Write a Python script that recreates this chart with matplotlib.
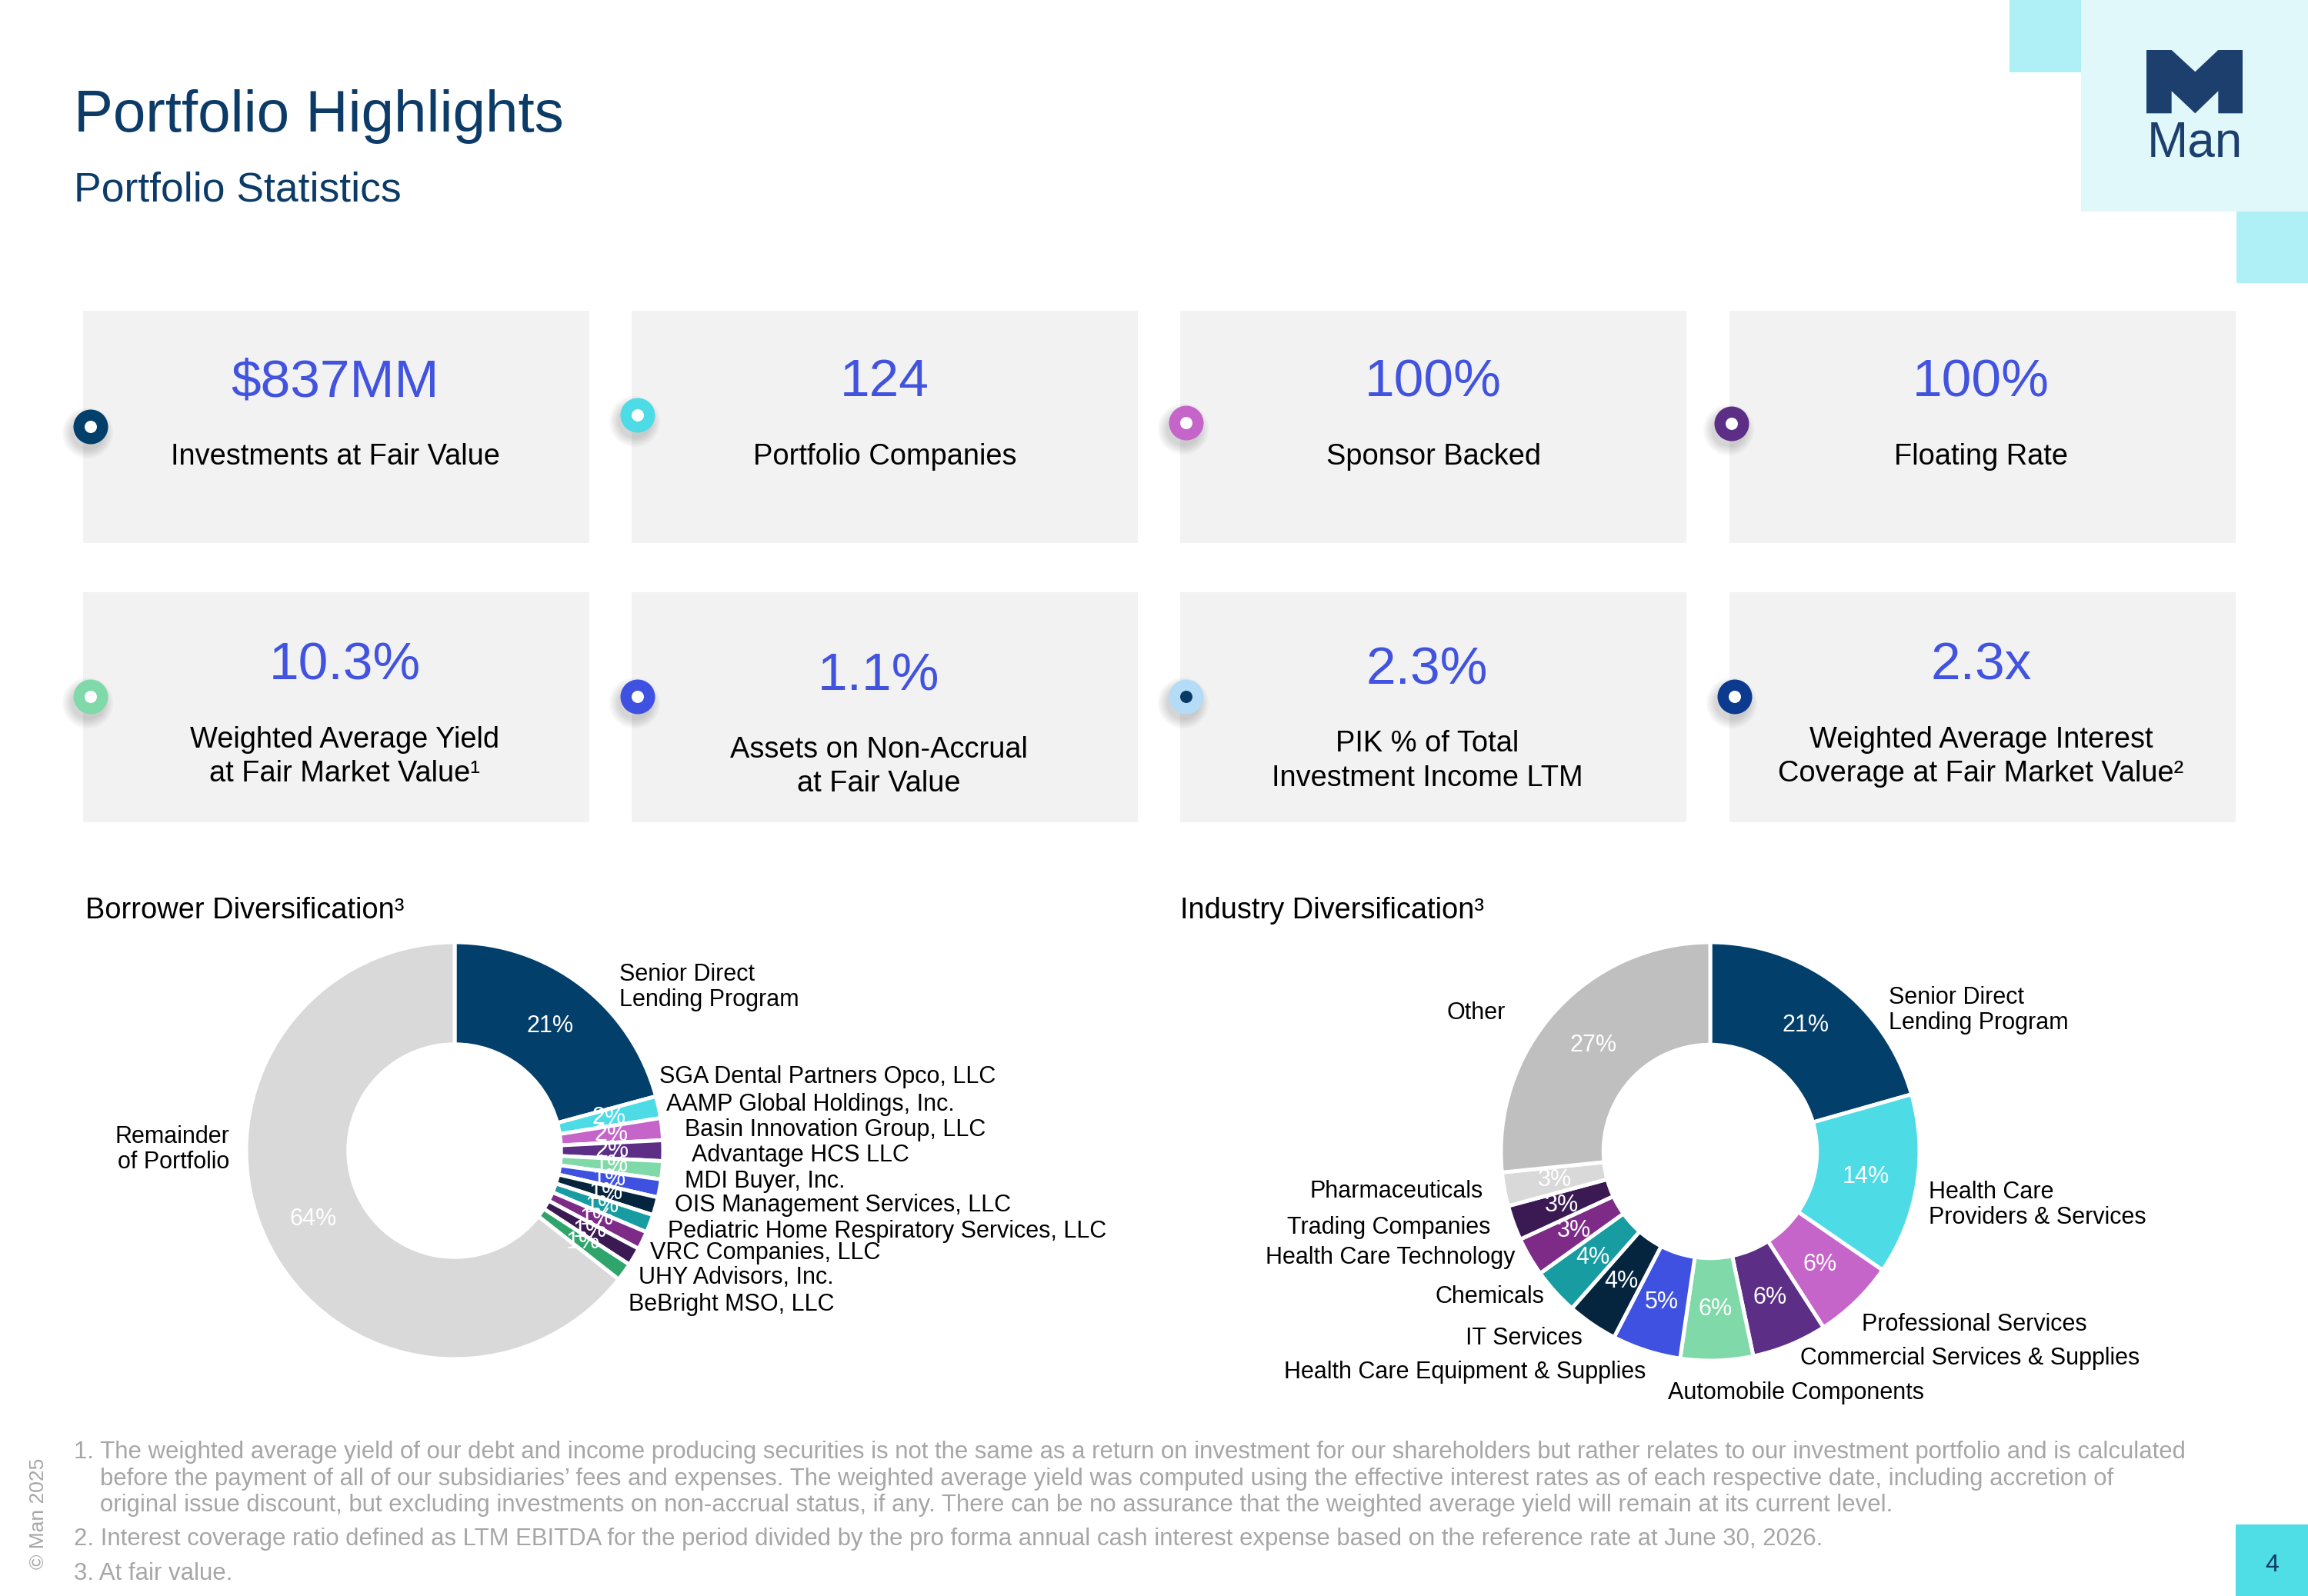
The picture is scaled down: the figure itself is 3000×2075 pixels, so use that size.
import matplotlib
matplotlib.use("Agg")
import matplotlib.pyplot as plt
from matplotlib.patches import Rectangle, Circle, Polygon

plt.rcParams['font.family'] = ['Liberation Sans', 'DejaVu Sans']

# ---------------- data ----------------
stat_values = ["$837MM", "124", "100%", "100%", "10.3%", "1.1%", "2.3%", "2.3x"]
stat_labels = [
    ["Investments at Fair Value"],
    ["Portfolio Companies"],
    ["Sponsor Backed"],
    ["Floating Rate"],
    ["Weighted Average Yield", "at Fair Market Value\u00b9"],
    ["Assets on Non-Accrual", "at Fair Value"],
    ["PIK % of Total", "Investment Income LTM"],
    ["Weighted Average Interest", "Coverage at Fair Market Value\u00b2"],
]

borrower_names = [
    "Senior Direct\nLending Program",
    "SGA Dental Partners Opco, LLC",
    "AAMP Global Holdings, Inc.",
    "Basin Innovation Group, LLC",
    "Advantage HCS LLC",
    "MDI Buyer, Inc.",
    "OIS Management Services, LLC",
    "Pediatric Home Respiratory Services, LLC",
    "VRC Companies, LLC",
    "UHY Advisors, Inc.",
    "BeBright MSO, LLC",
    "Remainder\nof Portfolio",
]
borrower_values = [20.8, 1.7, 1.7, 1.6, 1.4, 1.4, 1.4, 1.4, 1.4, 1.4, 1.4, 64.4]

industry_names = [
    "Senior Direct\nLending Program",
    "Health Care\nProviders & Services",
    "Professional Services",
    "Commercial Services & Supplies",
    "Automobile Components",
    "Health Care Equipment & Supplies",
    "IT Services",
    "Chemicals",
    "Health Care Technology",
    "Trading Companies",
    "Pharmaceuticals",
    "Other",
]
industry_values = [20.6, 14.0, 6.3, 5.8, 5.6, 5.3, 3.9, 3.6, 3.0, 2.7, 2.6, 26.6]

footnotes = [
    ["1. The weighted average yield of our debt and income producing securities is not the same as a return on investment for our shareholders but rather relates to our investment portfolio and is calculated",
     "before the payment of all of our subsidiaries\u2019 fees and expenses. The weighted average yield was computed using the effective interest rates as of each respective date, including accretion of",
     "original issue discount, but excluding investments on non-accrual status, if any. There can be no assurance that the weighted average yield will remain at its current level."],
    ["2. Interest coverage ratio defined as LTM EBITDA for the period divided by the pro forma annual cash interest expense based on the reference rate at June 30, 2026."],
    ["3. At fair value."],
]

# ---------------- style ----------------
NAVY = "#023f6b"
CYAN = "#4ddbe6"
ORCHID = "#c565ca"
PURPLE = "#5c2e86"
MINT = "#80d9a8"
BLUE = "#3f51e0"
DKNAVY = "#05253f"
TEAL = "#169ca1"
MAGENTA = "#7e2b88"
DKPURPLE = "#3b1a53"
GREEN = "#2fa56b"
LGREY = "#d9d9d9"
GREY = "#bfbfbf"

borrower_colors = [NAVY, CYAN, ORCHID, PURPLE, MINT, BLUE, DKNAVY, TEAL,
                   MAGENTA, DKPURPLE, GREEN, LGREY]
industry_colors = [NAVY, CYAN, ORCHID, PURPLE, MINT, BLUE, DKNAVY, TEAL,
                   MAGENTA, DKPURPLE, LGREY, GREY]

ring_colors = [NAVY, CYAN, ORCHID, PURPLE, MINT, BLUE, "#b5dcf7", "#0b3a8e"]
ring_dot = ["white"] * 6 + ["#083a66", "white"]

TITLE_C = "#0c3b68"
NUM_C = "#4153df"
FOOT_C = "#a6a6a6"

W, H = 3000, 2075
PX = 100 / 72.0  # px per point


def cap(fs):
    return 0.716 * fs * PX


fig = plt.figure(figsize=(30, 20.75), dpi=100)
bg = fig.add_axes([0, 0, 1, 1])
bg.set_xlim(0, W)
bg.set_ylim(H, 0)
bg.axis('off')

# ---------------- header ----------------
bg.text(96, 171, "Portfolio Highlights", fontsize=55, color=TITLE_C, va='baseline', ha='left')
bg.text(96, 262, "Portfolio Statistics", fontsize=38.5, color=TITLE_C, va='baseline', ha='left')

# logo blocks
bg.add_patch(Rectangle((2705, 0), 295, 275, color="#e1f8fa", lw=0))
bg.add_patch(Rectangle((2612, 0), 93, 94, color="#aef0f5", lw=0))
bg.add_patch(Rectangle((2907, 275), 93, 93, color="#aef0f5", lw=0))
m_pts = [(60, 45), (158, 45), (250, 130), (340, 45), (435, 45), (435, 292), (340, 292),
         (340, 205), (250, 292), (158, 205), (158, 292), (60, 292)]
bg.add_patch(Polygon([(2770 + x / 3.0, 50 + y / 3.0) for x, y in m_pts], closed=True,
                     color="#1d3f6e", lw=0))
bg.text(2853, 204, "Man", fontsize=46, color="#1d3f6e", ha='center', va='baseline')

# ---------------- stat boxes ----------------
box_x = [108, 821, 1534, 2248]
box_w = 658
rows = [(404, 302), (770, 299)]
num_cx = [436, 1150, 1863, 2575, 448, 1142, 1855, 2575]
num_base = [515, 515, 515, 515, 883, 897, 890, 883]
lab_base = [[604], [604], [604], [604], [972, 1016], [985, 1029], [977, 1022], [972, 1016]]
ring_c = [(118, 555), (829, 540), (1542, 550), (2251, 551),
          (118, 906), (829, 906), (1542, 906), (2255, 906)]

for i in range(8):
    r, c = divmod(i, 4)
    y0, h = rows[r]
    bg.add_patch(Rectangle((box_x[c], y0), box_w, h, color="#f2f2f2", lw=0, zorder=1))
    bg.text(num_cx[i], num_base[i], stat_values[i], fontsize=50, color=NUM_C,
            ha='center', va='baseline', zorder=3)
    for line, yb in zip(stat_labels[i], lab_base[i]):
        bg.text(num_cx[i], yb, line, fontsize=27.4, color="black",
                ha='center', va='baseline', zorder=3)
    cx, cy = ring_c[i]
    for k in range(6):
        bg.add_patch(Circle((cx - 4, cy + 8), 22 + 2.2 * k, color="black",
                            alpha=0.028, lw=0, zorder=2))
    bg.add_patch(Circle((cx, cy), 22.5, color=ring_colors[i], lw=0, zorder=4))
    bg.add_patch(Circle((cx, cy), 8, color=ring_dot[i], lw=0, zorder=5))

# ---------------- donuts ----------------
LFS = 22


def donut(cx, cy, R, values, colors):
    ext = 1.2
    ax = fig.add_axes([(cx - ext * R) / W, (H - cy - ext * R) / H, 2 * ext * R / W, 2 * ext * R / H])
    ax.pie(values, colors=colors, startangle=90, counterclock=False, radius=1.0,
           wedgeprops=dict(width=0.49, edgecolor='white', linewidth=3.6),
           autopct=lambda p: f"{p:.0f}%", pctdistance=0.755,
           textprops=dict(color='white', fontsize=LFS))
    ax.set_xlim(-ext, ext)
    ax.set_ylim(-ext, ext)
    ax.axis('off')
    return ax


def label(cx, cy, R, x, y, txt, ha):
    lines = txt.split("\n")
    step = 33
    n = len(lines)
    yc = cy - y * R
    for j, ln in enumerate(lines):
        yb = yc + (j - (n - 1) / 2.0) * step + cap(LFS) / 2
        bg.text(cx + x * R, yb, ln, fontsize=LFS, color='black', ha=ha, va='baseline')


# Borrower
bcx, bcy, bR = 591, 1496, 271
donut(bcx, bcy, bR, borrower_values, borrower_colors)
borrower_lpos = [(0.791, 0.796, 'left'), (0.982, 0.364, 'left'), (1.015, 0.232, 'left'),
                 (1.104, 0.111, 'left'), (1.137, -0.010, 'left'), (1.104, -0.135, 'left'),
                 (1.055, -0.252, 'left'), (1.022, -0.377, 'left'), (0.939, -0.479, 'left'),
                 (0.883, -0.599, 'left'), (0.834, -0.728, 'left'), (-1.080, 0.018, 'right')]
for name, (x, y, ha) in zip(borrower_names, borrower_lpos):
    label(bcx, bcy, bR, x, y, name, ha)

# Industry
icx, icy, iR = 2223, 1497, 272
donut(icx, icy, iR, industry_values, industry_colors)
industry_lpos = [(0.854, 0.687, 'left'), (1.043, -0.243, 'left'), (0.725, -0.815, 'left'),
                 (0.430, -0.980, 'left'), (-0.203, -1.143, 'left'), (-0.307, -1.044, 'right'),
                 (-0.611, -0.883, 'right'), (-0.794, -0.685, 'right'), (-0.932, -0.498, 'right'),
                 (-1.050, -0.354, 'right'), (-1.086, -0.182, 'right'), (-0.977, 0.673, 'right')]
for name, (x, y, ha) in zip(industry_names, industry_lpos):
    label(icx, icy, iR, x, y, name, ha)

# section titles
bg.text(111, 1180 + cap(27.4) / 2, "Borrower Diversification\u00b3", fontsize=27.4,
        color='black', ha='left', va='baseline')
bg.text(1534, 1180 + cap(27.4) / 2, "Industry Diversification\u00b3", fontsize=27.4,
        color='black', ha='left', va='baseline')

# ---------------- footnotes ----------------
FFS = 22.4
foot_y = [[1885, 1920, 1954], [1998], [2043]]
for lines, ys in zip(footnotes, foot_y):
    for j, (ln, yy) in enumerate(zip(lines, ys)):
        bg.text(96 if j == 0 else 130, yy + cap(FFS) / 2, ln, fontsize=FFS, color=FOOT_C,
                ha='left', va='baseline')

bg.text(50, 1968, "\u00a9 Man 2025", fontsize=19, color=FOOT_C, rotation=90,
        ha='center', va='center')

# page number
bg.add_patch(Rectangle((2906, 1982), 94, 93, color="#4fdde6", lw=0))
bg.text(2953, 2035, "4", fontsize=23, color="#0b3a66", ha='center', va='center')

fig.savefig("out.png", dpi=100)
